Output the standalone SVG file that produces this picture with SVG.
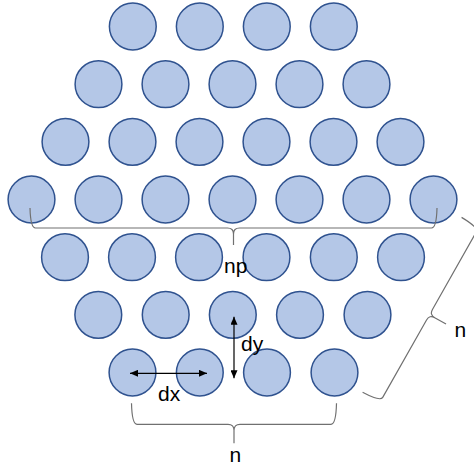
<svg xmlns="http://www.w3.org/2000/svg" width="474" height="466" viewBox="0 0 474 466">
<style>
.c{fill:#B4C7E7;stroke:#2F528F;stroke-width:1.5}
.b{fill:none;stroke:#707070;stroke-width:1.2;stroke-linejoin:round}
.a{fill:none;stroke:#000;stroke-width:1.2}
.t{font-family:"Liberation Sans",Arial,sans-serif;font-size:21px;fill:#000}
</style>
<defs>
<marker id="ah" viewBox="0 0 8 7" refX="8" refY="3.5" markerWidth="8" markerHeight="7" markerUnits="userSpaceOnUse" orient="auto-start-reverse">
<path d="M0,0 L8,3.5 L0,7 z" fill="#000"/>
</marker>
</defs>
<rect width="474" height="466" fill="#fff"/>
<g id="r1">
<g id="n1_1"><circle class="c" cx="132.8" cy="26.5" r="23.4"/></g>
<g id="n1_2"><circle class="c" cx="199.8" cy="26.5" r="23.4"/></g>
<g id="n1_3"><circle class="c" cx="266.8" cy="26.5" r="23.4"/></g>
<g id="n1_4"><circle class="c" cx="333.8" cy="26.5" r="23.4"/></g>
</g>
<g id="r2">
<g id="n2_1"><circle class="c" cx="98.5" cy="84.2" r="23.4"/></g>
<g id="n2_2"><circle class="c" cx="165.5" cy="84.2" r="23.4"/></g>
<g id="n2_3"><circle class="c" cx="232.5" cy="84.2" r="23.4"/></g>
<g id="n2_4"><circle class="c" cx="299.5" cy="84.2" r="23.4"/></g>
<g id="n2_5"><circle class="c" cx="366.5" cy="84.2" r="23.4"/></g>
</g>
<g id="r3">
<g id="n3_1"><circle class="c" cx="65.5" cy="141.8" r="23.4"/></g>
<g id="n3_2"><circle class="c" cx="132.5" cy="141.8" r="23.4"/></g>
<g id="n3_3"><circle class="c" cx="199.5" cy="141.8" r="23.4"/></g>
<g id="n3_4"><circle class="c" cx="266.5" cy="141.8" r="23.4"/></g>
<g id="n3_5"><circle class="c" cx="333.5" cy="141.8" r="23.4"/></g>
<g id="n3_6"><circle class="c" cx="400.5" cy="141.8" r="23.4"/></g>
</g>
<g id="r4">
<g id="n4_1"><circle class="c" cx="31.5" cy="199.5" r="23.4"/></g>
<g id="n4_2"><circle class="c" cx="98.5" cy="199.5" r="23.4"/></g>
<g id="n4_3"><circle class="c" cx="165.5" cy="199.5" r="23.4"/></g>
<g id="n4_4"><circle class="c" cx="232.5" cy="199.5" r="23.4"/></g>
<g id="n4_5"><circle class="c" cx="299.5" cy="199.5" r="23.4"/></g>
<g id="n4_6"><circle class="c" cx="366.5" cy="199.5" r="23.4"/></g>
<g id="n4_7"><circle class="c" cx="433.5" cy="199.5" r="23.4"/></g>
</g>
<g id="r5">
<g id="n5_1"><circle class="c" cx="65" cy="257.2" r="23.4"/></g>
<g id="n5_2"><circle class="c" cx="132" cy="257.2" r="23.4"/></g>
<g id="n5_3"><circle class="c" cx="199" cy="257.2" r="23.4"/></g>
<g id="n5_4"><circle class="c" cx="266.5" cy="257.2" r="23.4"/></g>
<g id="n5_5"><circle class="c" cx="333.8" cy="257.2" r="23.4"/></g>
<g id="n5_6"><circle class="c" cx="401" cy="257.2" r="23.4"/></g>
</g>
<g id="r6">
<g id="n6_1"><circle class="c" cx="98.3" cy="314.8" r="23.4"/></g>
<g id="n6_2"><circle class="c" cx="165.7" cy="314.8" r="23.4"/></g>
<g id="n6_3"><circle class="c" cx="232.8" cy="314.8" r="23.4"/></g>
<g id="n6_4"><circle class="c" cx="300" cy="314.8" r="23.4"/></g>
<g id="n6_5"><circle class="c" cx="367.5" cy="314.8" r="23.4"/></g>
</g>
<g id="r7">
<g id="n7_1"><circle class="c" cx="132.5" cy="372.5" r="23.4"/></g>
<g id="n7_2"><circle class="c" cx="199.8" cy="372.5" r="23.4"/></g>
<g id="n7_3"><circle class="c" cx="267" cy="372.5" r="23.4"/></g>
<g id="n7_4"><circle class="c" cx="334.5" cy="372.5" r="23.4"/></g>
</g>
<g id="connectors">
<path class="b" transform="translate(233.5,228)" d="M-203.5,-20 Q-203,0 -198,0 L-6,0 Q0,0 0,6 L0,17 M0,6 Q0,0 6,0 L198,0 Q203,0 203.5,-20"/>
<path class="b" transform="translate(234,424.3)" d="M-102.5,-21 Q-102,0 -97,0 L-6,0 Q0,0 0,6 L0,19 M0,6 Q0,0 6,0 L97,0 Q102,0 102.5,-21"/>
<path class="b" transform="translate(429.5,314.7) rotate(-60.5)" d="M-100.5,-20 Q-100,0 -95,0 L-6,0 Q0,0 0,6 L0,19 M0,6 Q0,0 6,0 L95,0 Q100,0 100.5,-20"/>
<line class="a" x1="130" y1="373.3" x2="207" y2="373.3" marker-start="url(#ah)" marker-end="url(#ah)"/>
<line class="a" x1="234" y1="316.7" x2="234" y2="378.3" marker-start="url(#ah)" marker-end="url(#ah)"/>
</g>
<g id="labels">
<text class="t" x="224" y="272.5">np</text>
<text class="t" x="241" y="351">dy</text>
<text class="t" x="158" y="400.5">dx</text>
<text class="t" x="229.5" y="461.7">n</text>
<text class="t" x="454.5" y="336.5">n</text>
</g>
</svg>
